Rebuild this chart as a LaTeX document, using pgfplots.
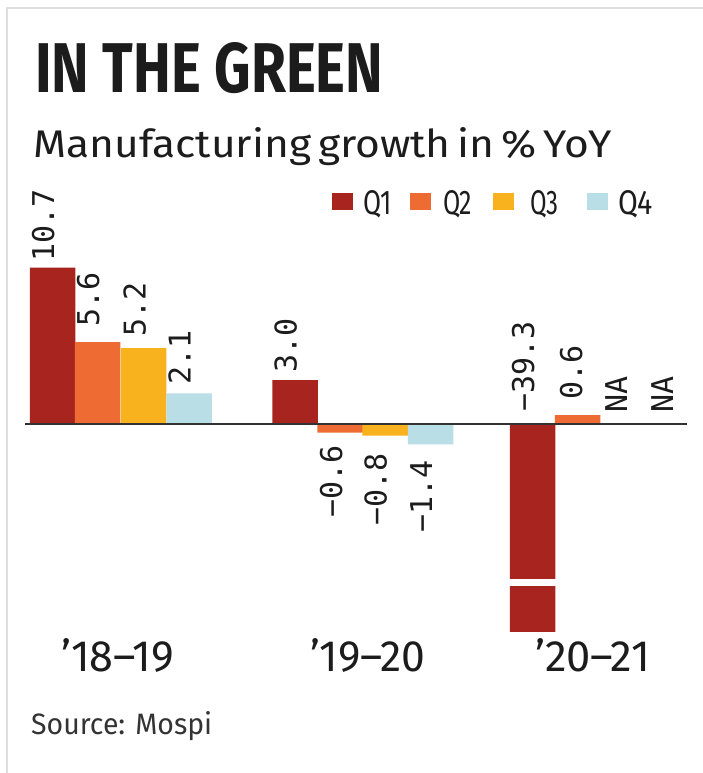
\documentclass[border=0pt]{standalone}
\usepackage{pgfplots}
\pgfplotsset{compat=1.18}
\usepackage{fontspec}
\usepackage{graphicx}
\setmainfont{Fira Sans}
\newfontfamily\monofont{DejaVu Sans Mono}
\definecolor{cQa}{RGB}{168,36,30}
\definecolor{cQb}{RGB}{238,108,52}
\definecolor{cQc}{RGB}{247,178,30}
\definecolor{cQd}{RGB}{186,222,230}
\definecolor{txt}{RGB}{28,28,28}
\newcommand\vl{\monofont\fontsize{30}{30}\selectfont\color{txt}}
\tikzset{vlab/.style={rotate=90, inner sep=0, font=\vl}}
\newcommand\gap{\hspace{0.16em}}
\begin{document}
\begin{tikzpicture}[x=1pt,y=1pt]
\path[use as bounding box] (0,0) rectangle (703,773);
\fill[white] (0,0) rectangle (703,773);
\draw[black!13, line width=2pt] (7,0) -- (7,765) -- (703,765);
% titles
\node[anchor=base west, inner sep=0, text=txt] at (35,680) {\resizebox{348pt}{50pt}{\bfseries IN THE GREEN}};
\node[anchor=base west, inner sep=0, text=txt] at (33,615) {\resizebox{579pt}{30pt}{Manufacturing\gap growth\gap in\gap \%\gap YoY}};
% legend
\fill[cQa] (332,563) rectangle (353,580);
\node[anchor=base west, inner sep=0, text=txt] at (363,558) {\resizebox{29pt}{24pt}{Q1}};
\fill[cQb] (410,563) rectangle (431,580);
\node[anchor=base west, inner sep=0, text=txt] at (443,558) {\resizebox{29pt}{24pt}{Q2}};
\fill[cQc] (493,563) rectangle (514,580);
\node[anchor=base west, inner sep=0, text=txt] at (530,558) {\resizebox{28pt}{24pt}{Q3}};
\fill[cQd] (587,563) rectangle (608,580);
\node[anchor=base west, inner sep=0, text=txt] at (618,558) {\resizebox{35pt}{24pt}{Q4}};
% category labels
\node[anchor=base west, inner sep=0, text=txt] at (61,101) {\resizebox{113pt}{33pt}{’18–19}};
\node[anchor=base west, inner sep=0, text=txt] at (310,101) {\resizebox{115pt}{33pt}{’19–20}};
\node[anchor=base west, inner sep=0, text=txt] at (535,101) {\resizebox{115pt}{33pt}{’20–21}};
% source
\node[anchor=base west, inner sep=0, text=txt!90] at (31,38) {\resizebox{181pt}{23pt}{Source: Mospi}};
\begin{axis}[at={(20pt,141pt)}, anchor=south west, scale only axis,
  width=675pt, height=383.25pt,
  xmin=20, xmax=695, ymin=-14.25, ymax=12,
  axis lines=none, clip mode=individual]
\addplot[ybar, bar width=45.5, bar shift=0pt, fill=cQa, draw=none] coordinates {(52.5,10.7) (295,3.0) (532.5,-39.3)};
\addplot[ybar, bar width=45.5, bar shift=0pt, fill=cQb, draw=none] coordinates {(97.5,5.6) (340,-0.6) (577.5,0.6)};
\addplot[ybar, bar width=45.5, bar shift=0pt, fill=cQc, draw=none] coordinates {(143.7,5.2) (385,-0.8)};
\addplot[ybar, bar width=45.5, bar shift=0pt, fill=cQd, draw=none] coordinates {(189.2,2.1) (430.6,-1.4)};
% axis break on the clipped bar
\fill[white] (axis cs:505,-10.62) rectangle (axis cs:560,-11.1);
% zero line
\draw[black!80, line width=1.4pt] (axis cs:25,0) -- (axis cs:687,0);
% value labels
\node[vlab, anchor=base west] at (axis cs:54,11.1) {10.7};
\node[vlab, anchor=base west] at (axis cs:99,6.64) {5.6};
\node[vlab, anchor=base west] at (axis cs:145.5,5.96) {5.2};
\node[vlab, anchor=base west] at (axis cs:190.7,2.67) {2.1};
\node[vlab, anchor=base west] at (axis cs:296.5,3.49) {3.0};
\node[vlab, anchor=base west] at (axis cs:534,0.82) {−39.3};
\node[vlab, anchor=base west] at (axis cs:582,1.64) {0.6};
\node[vlab, anchor=base west] at (axis cs:627,0.75) {NA};
\node[vlab, anchor=base west] at (axis cs:673,0.75) {NA};
\node[vlab, anchor=base east] at (axis cs:342,-1.44) {−0.6};
\node[vlab, anchor=base east] at (axis cs:386.5,-1.99) {−0.8};
\node[vlab, anchor=base east] at (axis cs:432,-2.47) {−1.4};
\end{axis}
\end{tikzpicture}
\end{document}
